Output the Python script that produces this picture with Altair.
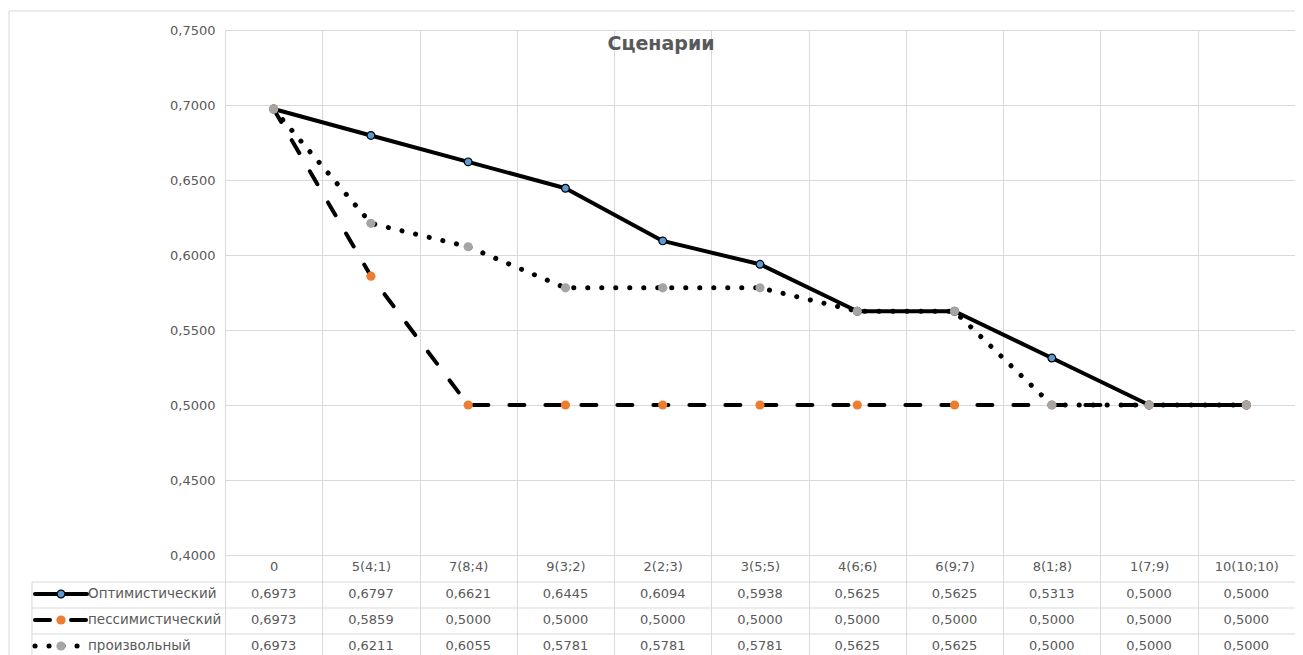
import altair as alt
import pandas as pd

categories = ["0", "5(4;1)", "7(8;4)", "9(3;2)", "2(2;3)", "3(5;5)", "4(6;6)",
              "6(9;7)", "8(1;8)", "1(7;9)", "10(10;10)"]
series_names = ["Оптимистический", "пессимистический", "произвольный"]
optimistic = [0.6973, 0.6797, 0.6621, 0.6445, 0.6094, 0.5938, 0.5625, 0.5625, 0.5313, 0.5000, 0.5000]
pessimistic = [0.6973, 0.5859, 0.5000, 0.5000, 0.5000, 0.5000, 0.5000, 0.5000, 0.5000, 0.5000, 0.5000]
arbitrary = [0.6973, 0.6211, 0.6055, 0.5781, 0.5781, 0.5781, 0.5625, 0.5625, 0.5000, 0.5000, 0.5000]
y_ticks = [0.40, 0.45, 0.50, 0.55, 0.60, 0.65, 0.70, 0.75]
title_text = "Сценарии"

rows = []
for name, vals in zip(series_names, [optimistic, pessimistic, arbitrary]):
    for c, v in zip(categories, vals):
        rows.append({"cat": c, "series": name, "value": v})
df = pd.DataFrame(rows)
legend_df = pd.DataFrame({"series": series_names})
one = pd.DataFrame({"k": [0]})

W, H = 1070, 525
FONT = "DejaVu Sans"
GRID = "#d9d9d9"
TXT = "#595959"

styles = {
    "Оптимистический": dict(dash=None, fill="#5b9bd5", stroke="black", sw=1.2, size=60),
    "пессимистический": dict(dash=[15, 21], fill="#ed7d31", stroke="#ed7d31", sw=0, size=85),
    "произвольный": dict(dash=[0.1, 13.9], fill="#a5a5a5", stroke="#a5a5a5", sw=0, size=85),
}
line_width = {"Оптимистический": 4, "пессимистический": 4, "произвольный": 5}

x_enc = alt.X(
    "cat:N", sort=categories,
    scale=alt.Scale(type="band", domain=categories, paddingInner=0, paddingOuter=0),
    axis=alt.Axis(title=None, orient="bottom", tickBand="extent", grid=True,
                  gridColor=GRID, gridWidth=1, ticks=True, tickColor=GRID,
                  tickWidth=1, tickSize=100, domain=False, labelAngle=0,
                  labelPadding=-95, labelFont=FONT, labelFontSize=13,
                  labelColor=TXT),
)
y_enc = alt.Y(
    "value:Q",
    scale=alt.Scale(domain=[0.4, 0.75], nice=False, zero=False),
    axis=alt.Axis(title=None, values=y_ticks,
                  labelExpr="replace(format(datum.value, '.4f'), '.', ',')",
                  grid=True, gridColor=GRID, gridWidth=1, ticks=False,
                  domain=False, labelPadding=10, labelFont=FONT,
                  labelFontSize=13, labelColor=TXT),
)

def line_kwargs(name):
    st = styles[name]
    kw = dict(color="black", strokeWidth=line_width[name], strokeCap="round",
              strokeJoin="round")
    if st["dash"]:
        kw["strokeDash"] = st["dash"]
    return kw

def point_kwargs(name):
    st = styles[name]
    kw = dict(shape="circle", filled=True, fill=st["fill"], size=st["size"],
              opacity=1)
    if st["sw"] > 0:
        kw["stroke"] = st["stroke"]
        kw["strokeWidth"] = st["sw"]
    return kw

base = alt.Chart(df)
lines = [base.transform_filter(alt.datum.series == n)
         .mark_line(**line_kwargs(n)).encode(x=x_enc, y=y_enc)
         for n in series_names]
points = [base.transform_filter(alt.datum.series == n)
          .mark_point(**point_kwargs(n)).encode(x=x_enc, y=y_enc)
          for n in series_names]
main = alt.layer(*lines, *points)

row_y = alt.Y("series:N", sort=series_names,
              scale=alt.Scale(type="point", domain=series_names,
                              range=[564, 616], padding=0),
              axis=None)

values_text = base.transform_calculate(
    label="replace(format(datum.value, '.4f'), '.', ',')"
).mark_text(font=FONT, fontSize=13, color=TXT).encode(
    x=x_enc, y=row_y, text="label:N")

leg = alt.Chart(legend_df)
leg_lines = [leg.transform_filter(alt.datum.series == n)
             .mark_rule(**line_kwargs(n))
             .encode(x=alt.value(-190), x2=alt.value(-138), y=row_y)
             for n in series_names]
leg_points = [leg.transform_filter(alt.datum.series == n)
              .mark_point(**point_kwargs(n))
              .encode(x=alt.value(-164), y=row_y)
              for n in series_names]
leg_names = leg.mark_text(font=FONT, fontSize=13.5, color=TXT, align="left").encode(
    x=alt.value(-137), y=row_y, text="series:N")

table = alt.layer(values_text, *leg_lines, *leg_points, leg_names)

def rule(x1, x2, y1, y2):
    return alt.Chart(one).mark_rule(color=GRID, strokeWidth=1).encode(
        x=alt.value(x1), x2=alt.value(x2), y=alt.value(y1), y2=alt.value(y2))

decor = [
    rule(-193, W, 552, 552),
    rule(-193, W, 578, 578),
    rule(-193, W, 604, 604),
    rule(-193, -193, 552, 630),
    rule(-216, W + 10, -19, -19),
    rule(-216, -216, -19, 630),
]

title = alt.Chart(pd.DataFrame({"t": [title_text]})).mark_text(
    font=FONT, fontSize=19, fontWeight="bold", color=TXT
).encode(text="t:N", x=alt.value(436), y=alt.value(14))

chart = alt.layer(*decor, main, table, title).resolve_scale(
    y="independent"
).properties(
    width=W, height=H,
    padding={"left": 217, "top": 22, "right": 0, "bottom": 100},
    autosize=alt.AutoSizeParams(type="none"),
).configure_view(strokeWidth=0)

chart.save("out.html", embed_options={"renderer": "svg", "actions": False})
